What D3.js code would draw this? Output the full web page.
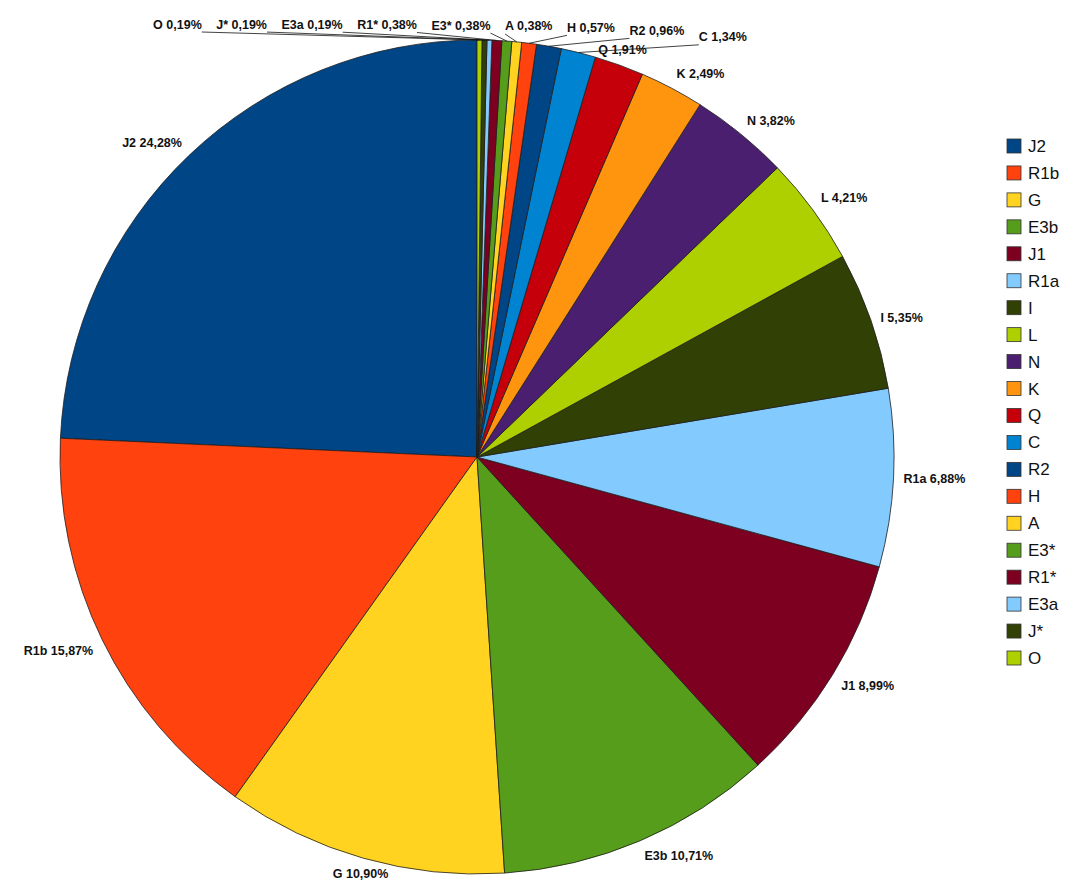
<!DOCTYPE html>
<meta charset="utf-8">
<title>Haplogroups</title>
<script src="https://d3js.org/d3.v7.min.js"></script>
<style>
  body { margin: 0; background: #fff; }
  text { font-family: "Liberation Sans", Arial, sans-serif; }
</style>
<body>
<script>

var w = 1080
var h = 891

// haplogroups and their share in percent, in the order of the pie
var groups = ["J2", "R1b", "G", "E3b", "J1", "R1a", "I", "L", "N", "K",
              "Q", "C", "R2", "H", "A", "E3*", "R1*", "E3a", "J*", "O"];
var shares = [24.28, 15.87, 10.90, 10.71, 8.99, 6.88, 5.35, 4.21, 3.82, 2.49,
              1.91, 1.34, 0.96, 0.57, 0.38, 0.38, 0.38, 0.19, 0.19, 0.19];
var shareLabels = ["24,28%", "15,87%", "10,90%", "10,71%", "8,99%", "6,88%", "5,35%", "4,21%", "3,82%", "2,49%",
                   "1,91%", "1,34%", "0,96%", "0,57%", "0,38%", "0,38%", "0,38%", "0,19%", "0,19%", "0,19%"];
var palette = ["#004586", "#ff420e", "#ffd320", "#579d1c", "#7e0021", "#83caff",
               "#314004", "#aecf00", "#4b1f6f", "#ff950e", "#c5000b", "#0084d1"];

var cx = 477, cy = 457, radius = 417;

var svg = d3.select("body")
  .append("svg")
  .attr("width", w)
  .attr("height", h);

var color = d3.scaleOrdinal()
  .domain(groups)
  .range(groups.map(function(d, i) { return palette[i % palette.length]; }));

var data = groups.map(function(g, i) { return { name: g, value: shares[i], label: g + " " + shareLabels[i] }; });

// counter clockwise from 12 o'clock
var pie = d3.pie()
  .sort(null)
  .value(function(d) { return d.value; })
  .startAngle(0)
  .endAngle(-2 * Math.PI);

var arcs = pie(data);

var arc = d3.arc().innerRadius(0).outerRadius(radius);

var g = svg.append("g").attr("transform", "translate(" + cx + "," + cy + ")");

g.selectAll("path.slice")
  .data(arcs)
  .enter()
  .append("path")
    .attr("class", "slice")
    .attr("d", arc)
    .attr("fill", function(d) { return color(d.data.name); })
    .attr("stroke", "#1e1e1e")
    .attr("stroke-width", 0.8);

// labels
var s8 = Math.sin(Math.PI / 8);
var labelG = svg.append("g");
var placed = [];
var crowded = [];

arcs.forEach(function(d) {
  var a = (d.startAngle + d.endAngle) / 2;
  var dx = Math.sin(a), dy = -Math.cos(a);
  d.dir = [dx, dy];
  var px = cx + (radius + 10) * dx, py = cy + (radius + 10) * dy;
  var t = labelG.append("text")
    .attr("font-size", "12.5px")
    .attr("font-weight", "bold")
    .attr("fill", "#111")
    .text(d.data.label);
  var tw = t.node().getComputedTextLength();
  var th = 12;
  var left = dx > s8 ? px : (dx < -s8 ? px - tw : px - tw / 2);
  var top = dy > s8 ? py : (dy < -s8 ? py - th : py - th / 2);
  d.box = { x: left, y: top, w: tw, h: th };
  d.text = t;
  var hit = placed.find(function(b) {
    return left < b.x + b.w + 2 && left + tw + 2 > b.x && top < b.y + b.h + 2 && top + th + 2 > b.y;
  });
  if (hit && crowded.length === 0) d.pushFrom = hit;
  if (hit || crowded.length) crowded.push(d);
  else placed.push(d.box);
});

// crowded labels at the top: keep their height, lay them out in a row to the left
var rowPad = 52, gap = 14.5;
var edge = null;
crowded.forEach(function(d, i) {
  if (i === 0) {
    d.box.x = d.pushFrom.x + d.pushFrom.w + rowPad;
  } else {
    d.box.x = edge - gap - d.box.w;
  }
  edge = d.box.x;
  var ax = cx + radius * d.dir[0], ay = cy + radius * d.dir[1];
  var lx = d.box.x + d.box.w < ax ? d.box.x + d.box.w : d.box.x;
  labelG.append("line")
    .attr("x1", ax).attr("y1", ay)
    .attr("x2", lx).attr("y2", d.box.y + d.box.h + 2)
    .attr("stroke", "#111")
    .attr("stroke-width", 0.8);
});

arcs.forEach(function(d) {
  d.text
    .attr("x", d.box.x)
    .attr("y", d.box.y + d.box.h - 1.5);
});

// legend
var legendY = d3.scalePoint().domain(groups).range([146, 658]);

var legend = svg.append("g")
  .selectAll("g")
  .data(groups)
  .enter()
  .append("g")
    .attr("transform", function(d) { return "translate(1007," + legendY(d) + ")"; });

legend.append("rect")
  .attr("x", 0).attr("y", -7)
  .attr("width", 14).attr("height", 14)
  .attr("fill", function(d) { return color(d); })
  .attr("stroke", "#333")
  .attr("stroke-width", 0.8);

legend.append("text")
  .attr("x", 21)
  .attr("y", 6)
  .attr("font-size", "17px")
  .attr("fill", "#111")
  .text(function(d) { return d; });

</script>
</body>
